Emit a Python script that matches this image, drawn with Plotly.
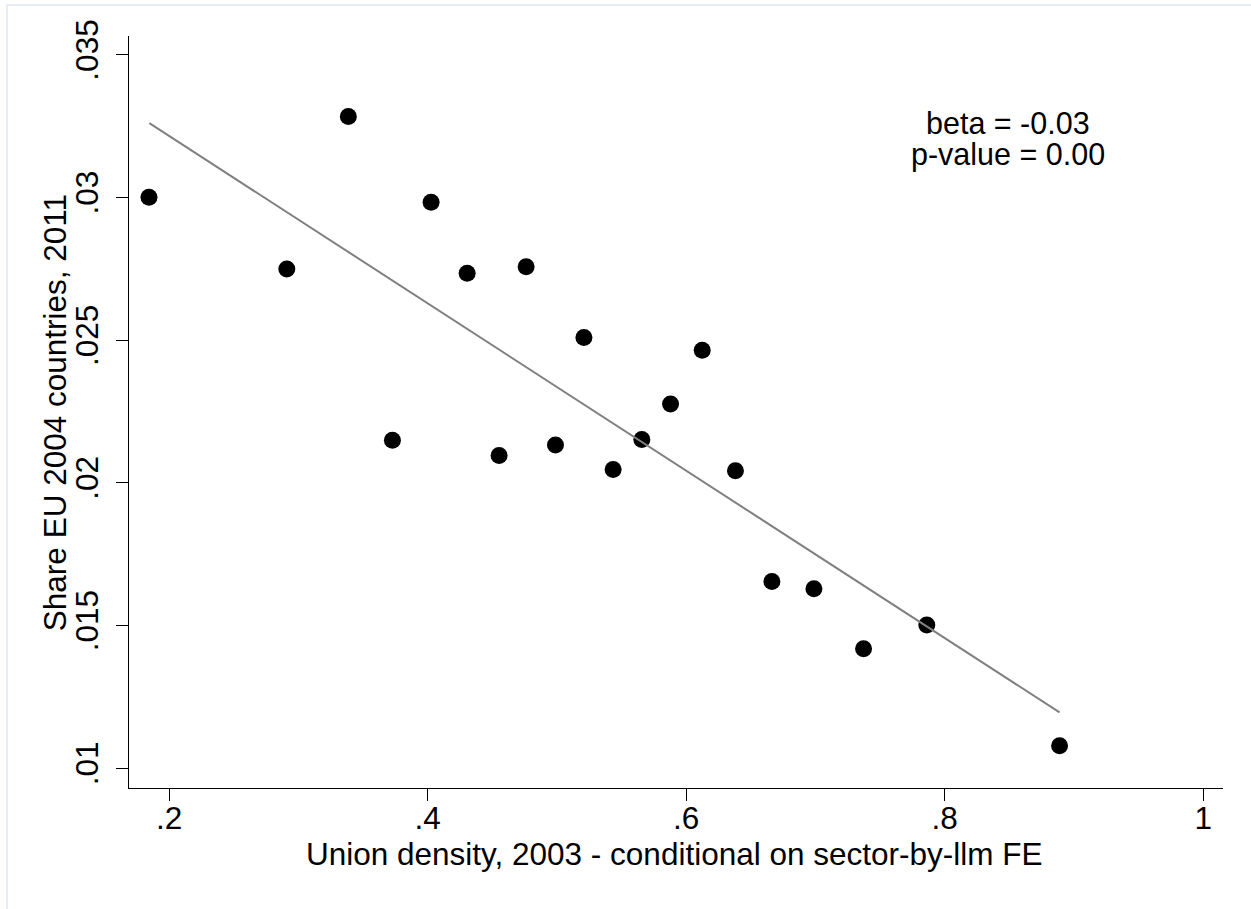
import plotly.graph_objects as go

# Binned means: union density (2003, conditional on sector-by-llm FE) vs. share EU 2004 countries (2011)
union_density = [0.1845, 0.2911, 0.3387, 0.3728, 0.4027, 0.4306, 0.4553, 0.4762, 0.4989, 0.5209,
                 0.5435, 0.5657, 0.5879, 0.6124, 0.6381, 0.6663, 0.6988, 0.7372, 0.7861, 0.8888]
share_eu2004 = [0.03000, 0.02749, 0.03283, 0.02149, 0.02983, 0.02734, 0.02095, 0.02757, 0.02132, 0.02509,
                0.02046, 0.02151, 0.02276, 0.02464, 0.02042, 0.01654, 0.01628, 0.01418, 0.01501, 0.01078]

# Linear fit endpoints
fit_x = [0.1848, 0.8888]
fit_y = [0.03260, 0.01195]

x_tickvals = [0.2, 0.4, 0.6, 0.8, 1.0]
x_ticktext = [".2", ".4", ".6", ".8", "1"]
y_tickvals = [0.01, 0.015, 0.02, 0.025, 0.03, 0.035]
y_ticktext = [".01", ".015", ".02", ".025", ".03", ".035"]

x_title = "Union density, 2003 - conditional on sector-by-llm FE"
y_title = "Share EU 2004 countries, 2011"
stats_lines = ["beta = -0.03", "p-value = 0.00"]

FONT = "Liberation Sans, Arial, Helvetica, sans-serif"
TICK_SIZE = 31.5
TITLE_SIZE = 31.5

fig = go.Figure()
fig.add_trace(go.Scatter(
    x=union_density, y=share_eu2004, mode="markers",
    marker=dict(color="black", size=17, line=dict(width=0)),
    showlegend=False, hoverinfo="skip",
))
fig.add_trace(go.Scatter(
    x=fit_x, y=fit_y, mode="lines",
    line=dict(color="#808080", width=2),
    showlegend=False, hoverinfo="skip",
))

# Regression statistics
fig.add_annotation(x=0.8491, y=0.03262, xref="x", yref="y", text=stats_lines[0],
                   showarrow=False, xanchor="center", yanchor="middle",
                   font=dict(family=FONT, size=30.5, color="black"))
fig.add_annotation(x=0.8491, y=0.03150, xref="x", yref="y", text=stats_lines[1],
                   showarrow=False, xanchor="center", yanchor="middle",
                   font=dict(family=FONT, size=30.5, color="black"))

# Axis titles
fig.add_annotation(x=0.4986, y=-0.0880, xref="paper", yref="paper", text=x_title,
                   showarrow=False, xanchor="center", yanchor="middle",
                   font=dict(family=FONT, size=TITLE_SIZE, color="black"))
fig.add_annotation(x=-0.0676, y=0.4985, xref="paper", yref="paper", text=y_title,
                   showarrow=False, xanchor="center", yanchor="middle", textangle=-90,
                   font=dict(family=FONT, size=TITLE_SIZE, color="black"))

# Outer graph-region frame
fig.add_shape(type="rect", xref="paper", yref="paper",
              x0=-0.1115, x1=1.04, y0=-0.17, y1=1.0412,
              line=dict(color="#e6edf3", width=2), fillcolor="rgba(0,0,0,0)", layer="below")

axis_common = dict(
    showgrid=False, zeroline=False, showline=True, linecolor="black", linewidth=1,
    ticks="outside", ticklen=12, tickwidth=1.3, tickcolor="black",
    tickfont=dict(family=FONT, size=TICK_SIZE, color="black"),
)

fig.update_xaxes(
    range=[0.16905, 1.0152], tickmode="array", tickvals=x_tickvals, ticktext=x_ticktext,
    ticklabelstandoff=-10,
    **axis_common,
)
fig.update_yaxes(
    range=[0.0093, 0.035655], tickmode="array", tickvals=y_tickvals, ticktext=y_ticktext,
    tickangle=-90, ticklabelstandoff=5,
    **axis_common,
)

fig.update_layout(
    width=1251, height=909,
    margin=dict(l=129, r=28, t=36, b=121, autoexpand=False),
    plot_bgcolor="white", paper_bgcolor="white",
    font=dict(family=FONT, color="black"),
)

fig.write_html("out.html")
